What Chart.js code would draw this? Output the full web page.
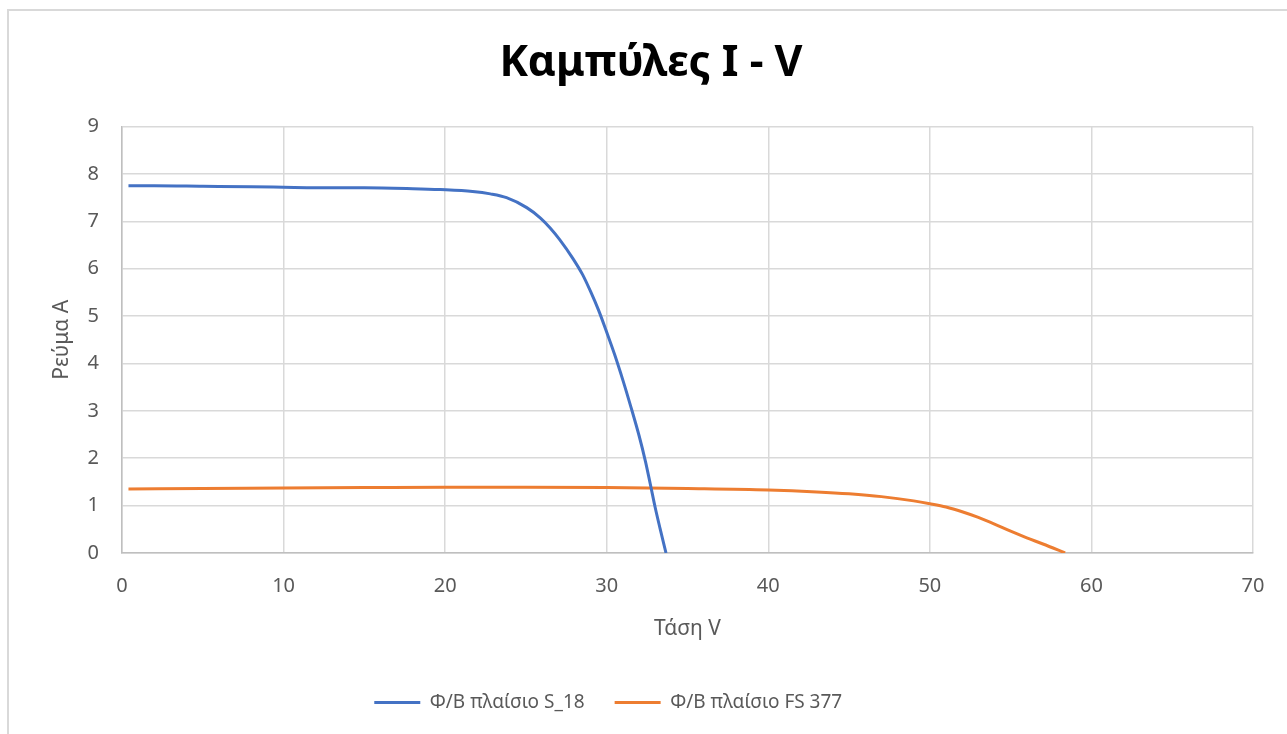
<!DOCTYPE html>
<html>
<head>
<meta charset="utf-8">
<script src="https://cdn.jsdelivr.net/npm/chart.js@4/dist/chart.umd.min.js"></script>
<style>
  html, body { margin: 0; padding: 0; background: #fff; overflow: hidden; }
  #frame {
    position: absolute; left: 7px; top: 9px; width: 1300px; height: 740px;
    border-left: 2px solid #d9d9d9; border-top: 2px solid #d9d9d9;
  }
  #wrap { position: absolute; left: 0; top: 0; width: 1287px; height: 734px; }
</style>
</head>
<body>
<div id="frame"></div>
<div id="wrap"><canvas id="myChart" width="1287" height="734"></canvas></div>
<script>
// S_18 panel - voltage (V) and current (A)
const s18V = [0.4, 2, 5, 8, 10, 12, 15, 18, 19.7, 21.7, 22.8, 23.8, 25.05, 25.9, 26.5, 27.1, 27.9, 28.5, 29.0, 29.5, 30.0, 30.5, 31.0, 31.5, 32.0, 32.4, 32.7, 33.0, 33.3, 33.67];
const s18I = [7.75, 7.75, 7.74, 7.73, 7.72, 7.71, 7.71, 7.69, 7.67, 7.63, 7.58, 7.50, 7.29, 7.07, 6.86, 6.61, 6.22, 5.88, 5.52, 5.12, 4.66, 4.18, 3.65, 3.08, 2.48, 1.93, 1.45, 0.96, 0.52, 0];

// FS 377 panel
const fsV = [0.4, 5, 10, 15, 20, 25, 30, 35, 40, 43, 45, 47, 49, 50, 51, 52, 53, 54, 55, 56, 57, 58.37];
const fsI = [1.35, 1.36, 1.37, 1.38, 1.39, 1.39, 1.38, 1.36, 1.33, 1.29, 1.25, 1.19, 1.10, 1.04, 0.97, 0.87, 0.75, 0.61, 0.46, 0.32, 0.19, 0];

const seriesNames = ['Φ/Β πλαίσιο S_18', 'Φ/Β πλαίσιο FS 377'];

const ctx = document.getElementById('myChart');
const grey = '#595959';
const fam = "'Noto Sans', sans-serif";

function pts(xs, ys) {
    return xs.map((x, i) => ({x: x, y: ys[i]}));
}

new Chart(ctx, {
    type: 'scatter',
    data: {
        datasets: [{
            label: seriesNames[0],
            data: pts(s18V, s18I),
            showLine: true,
            borderColor: '#4472C4',
            backgroundColor: '#4472C4',
            borderWidth: 3,
            pointRadius: 0,
            cubicInterpolationMode: 'monotone'
        }, {
            label: seriesNames[1],
            data: pts(fsV, fsI),
            showLine: true,
            borderColor: '#ED7D31',
            backgroundColor: '#ED7D31',
            borderWidth: 3,
            pointRadius: 0,
            cubicInterpolationMode: 'monotone'
        }]
    },
    options: {
        responsive: false,
        animation: false,
        layout: { padding: { left: 49, right: 34, top: 0, bottom: 12 } },
        plugins: {
            title: {
                display: true,
                text: 'Καμπύλες I - V',
                color: '#000',
                font: { family: fam, size: 43, weight: 'bold' },
                padding: { top: 38, bottom: 37 }
            },
            legend: {
                position: 'bottom',
                labels: {
                    usePointStyle: true,
                    pointStyle: 'line',
                    pointStyleWidth: 46,
                    color: grey,
                    padding: 30,
                    font: { family: fam, size: 19 },
                    generateLabels: chart => {
                        const items = Chart.defaults.plugins.legend.labels.generateLabels(chart);
                        // empty spacer so the legend row sits left of centre, as in the original
                        items.push({ text: '', strokeStyle: 'rgba(0,0,0,0)', fillStyle: 'rgba(0,0,0,0)', lineWidth: 0, pointStyle: 'line', hidden: false });
                        return items;
                    }
                }
            },
            tooltip: { enabled: false }
        },
        scales: {
            x: {
                type: 'linear',
                min: 0,
                max: 70,
                afterFit: s => { s.height = 110; },
                ticks: { stepSize: 10, color: grey, padding: 21, font: { family: fam, size: 20 } },
                grid: { color: '#d9d9d9', lineWidth: 1.5, drawTicks: false },
                border: { color: '#bfbfbf', width: 1.5 },
                title: { display: true, text: 'Τάση V', color: grey, font: { family: fam, size: 21 }, padding: { top: 0, bottom: 21 } }
            },
            y: {
                min: 0,
                max: 9,
                afterFit: s => { s.width = 73; },
                ticks: { stepSize: 1, color: grey, padding: 23, font: { family: fam, size: 20 } },
                grid: { color: '#d9d9d9', lineWidth: 1.5, drawTicks: false },
                border: { color: '#bfbfbf', width: 1.5 },
                title: { display: true, text: 'Ρεύμα Α', color: grey, font: { family: fam, size: 21 }, padding: { top: 0, bottom: 0 } }
            }
        }
    }
});
</script>
</body>
</html>
